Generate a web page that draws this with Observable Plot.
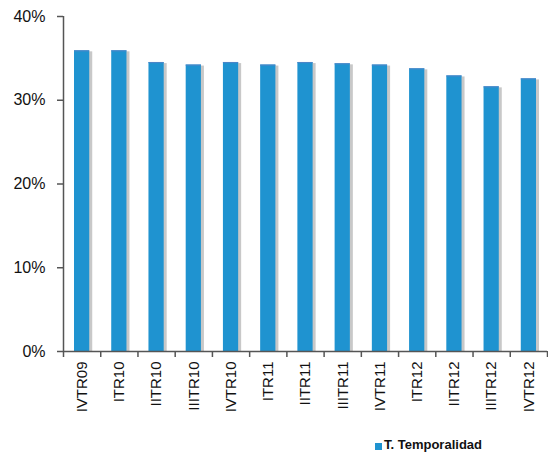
<!DOCTYPE html>
<html>
<head>
<meta charset="utf-8">
<script src="https://cdn.jsdelivr.net/npm/d3@7"></script>
<script src="https://cdn.jsdelivr.net/npm/@observablehq/plot@0.6"></script>
<style>
  body { margin: 0; background: #fff; }
  #wrap { position: relative; width: 548px; height: 456px; font-family: "Liberation Sans", Arial, sans-serif; }
  #legend { position: absolute; left: 375px; top: 437px; font-size: 13px; font-weight: bold; color: #111; display: flex; align-items: center; }
  #legend .sw { width: 7px; height: 7px; background: #1f93d0; margin-right: 2px; margin-top: 3px; }
</style>
</head>
<body>
<div id="wrap"></div>
<script>
const labels = ["IVTR09","ITR10","IITR10","IIITR10","IVTR10","ITR11","IITR11","IIITR11","IVTR11","ITR12","IITR12","IIITR12","IVTR12"];
const values = [35.9, 35.9, 34.5, 34.2, 34.5, 34.2, 34.5, 34.35, 34.2, 33.75, 32.9, 31.6, 32.55];
const yTicks = [0, 10, 20, 30, 40];
const seriesName = "T. Temporalidad";

const data = labels.map((l, i) => ({label: l, i, value: values[i]}));

const chart = Plot.plot({
  width: 548,
  height: 430,
  marginTop: 16,
  marginBottom: 79,
  marginLeft: 63,
  marginRight: 1,
  style: {fontFamily: "'Liberation Sans', Arial, sans-serif", color: "#111", background: "#fff"},
  x: {type: "linear", domain: [0, labels.length], axis: null},
  y: {domain: [0, 40], axis: null},
  marks: [
    Plot.rectY(data, {x1: d => d.i, x2: d => d.i + 1, y1: 0, y2: "value", insetLeft: 12, insetRight: 10, fill: "#9a9a9a", fillOpacity: 0.55, dx: 2, dy: 1}),
    Plot.rectY(data, {x1: d => d.i, x2: d => d.i + 1, y1: 0, y2: "value", insetLeft: 11, insetRight: 11, fill: "#1f93d0"}),
    Plot.ruleY(data, {x1: d => d.i, x2: d => d.i + 1, y: "value", insetLeft: 11, insetRight: 11, stroke: "#4a86c8", strokeWidth: 1.2}),
    Plot.axisY(yTicks, {tickSize: 6, tickPadding: 12, tickFormat: d => d + "%", fontSize: 16, stroke: "#555", fill: "#111", strokeWidth: 1.5, label: null}),
    Plot.axisX(d3.range(labels.length + 1), {tickSize: 6, tickFormat: () => "", stroke: "#555", strokeWidth: 1.5, label: null}),
    Plot.axisX(d3.range(labels.length).map(i => i + 0.5), {tickSize: 0, tickPadding: 10, tickRotate: -90, tickFormat: d => labels[Math.floor(d)], fontSize: 15, fill: "#111", label: null}),
    Plot.ruleY([0], {stroke: "#555", strokeWidth: 1.5}),
    Plot.ruleX([0], {y1: 0, y2: 40, stroke: "#555", strokeWidth: 1.5})
  ]
});

const wrap = document.getElementById("wrap");
wrap.appendChild(chart);
const legend = document.createElement("div");
legend.id = "legend";
legend.innerHTML = '<div class="sw"></div><span></span>';
legend.querySelector("span").textContent = seriesName;
wrap.appendChild(legend);
</script>
</body>
</html>
